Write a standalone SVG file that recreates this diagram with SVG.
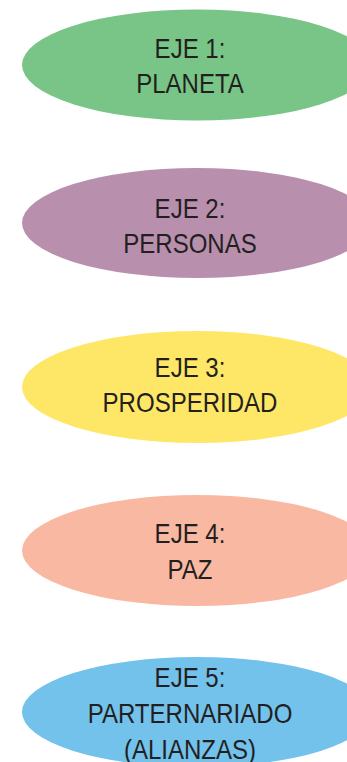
<svg xmlns="http://www.w3.org/2000/svg" width="347" height="762" viewBox="0 0 347 762">
<style>
.lbl{font-family:"Liberation Sans",Arial,sans-serif;font-size:27px;fill:#231F20;text-anchor:middle}
</style>
<rect width="347" height="762" fill="#FFFFFF"/>
<g id="connectors"></g>
<g id="eje1">
<ellipse cx="197" cy="65" rx="175" ry="55.5" fill="#78C587"/>
<text class="lbl" transform="translate(190,58) scale(0.89,1)">EJE 1:</text>
<text class="lbl" transform="translate(190,93) scale(0.89,1)">PLANETA</text>
</g>
<g id="eje2">
<ellipse cx="197" cy="223" rx="175" ry="55" fill="#B890AE"/>
<text class="lbl" transform="translate(190,218) scale(0.89,1)">EJE 2:</text>
<text class="lbl" transform="translate(190,253) scale(0.89,1)">PERSONAS</text>
</g>
<g id="eje3">
<ellipse cx="197" cy="387" rx="175" ry="56" fill="#FEE766"/>
<text class="lbl" transform="translate(190,377) scale(0.89,1)">EJE 3:</text>
<text class="lbl" transform="translate(190,412) scale(0.89,1)">PROSPERIDAD</text>
</g>
<g id="eje4">
<ellipse cx="197" cy="550.5" rx="175" ry="55.5" fill="#F9B8A1"/>
<text class="lbl" transform="translate(190,543) scale(0.89,1)">EJE 4:</text>
<text class="lbl" transform="translate(190,579) scale(0.89,1)">PAZ</text>
</g>
<g id="eje5">
<ellipse cx="197" cy="712" rx="175" ry="55" fill="#72C2EC"/>
<text class="lbl" transform="translate(190,687) scale(0.89,1)">EJE 5:</text>
<text class="lbl" transform="translate(190,723) scale(0.89,1)">PARTERNARIADO</text>
<text class="lbl" transform="translate(190,759) scale(0.89,1)">(ALIANZAS)</text>
</g>
</svg>
